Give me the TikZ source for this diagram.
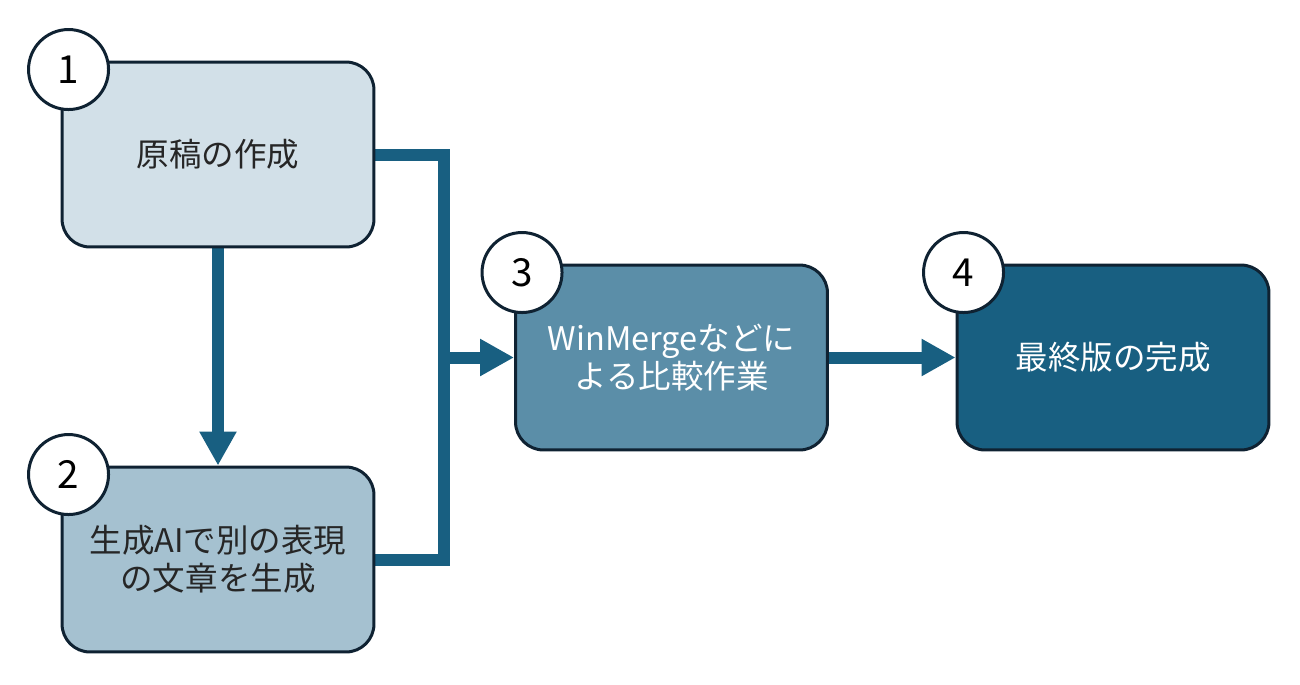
\documentclass[tikz,border=0pt]{standalone}
\usepackage{fontspec}
\newfontfamily\jpfont{Noto Sans CJK JP}
\usepackage{tikz}
\usetikzlibrary{arrows.meta,calc,positioning,backgrounds}
\definecolor{ink}{HTML}{0F2232}
\definecolor{textdark}{HTML}{262626}
\definecolor{pale}{HTML}{D2E0E8}
\definecolor{soft}{HTML}{A5C1D0}
\definecolor{mid}{HTML}{5B8EA8}
\definecolor{deep}{HTML}{185F81}

\begin{document}
\begin{tikzpicture}[x=0.02cm,y=-0.02cm,
  stage/.style={draw=ink,line width=0.06cm,rounded corners=0.56cm,minimum width=6.24cm,minimum height=3.7cm,inner sep=0pt,align=center,font=\jpfont\fontsize{18.5}{21.5}\selectfont},
  badge/.style={circle,draw=ink,fill=white,line width=0.06cm,minimum size=1.6cm,inner sep=0pt,font=\jpfont\fontsize{22}{24}\selectfont},
  link/.style={deep,line width=0.24cm},
  flow/.style={link,-{Triangle[length=0.68cm,width=0.70cm]}}]
\useasboundingbox (0,0) rectangle (1300,684);
% steps
\node[stage,fill=pale,text=textdark] (b1) at (218,154.5) {原稿の作成};
\node[stage,fill=soft,text=textdark] (b2) at (218,559.5) {生成AIで別の表現\\の文章を生成};
\node[stage,fill=mid,text=white] (b3) at (671.5,357.5) {WinMergeなどに\\よる比較作業};
\node[stage,fill=deep,text=white] (b4) at (1113,357.5) {最終版の完成};
\foreach \b/\n in {b1/1,b2/2,b3/3,b4/4}{\node[badge] (n\n) at ($(\b.north west)+(8,9)$) {\n};}
\coordinate (jx) at (444,357.5);
\begin{scope}[on background layer]
\draw[link] (b1.east) -| (jx) |- (b2.east);
\draw[flow] (jx) -- (b3.west);
\draw[flow] (b1.south) -- (b2.north);
\draw[flow] (b3.east) -- (b4.west);
\end{scope}
\end{tikzpicture}
\end{document}
